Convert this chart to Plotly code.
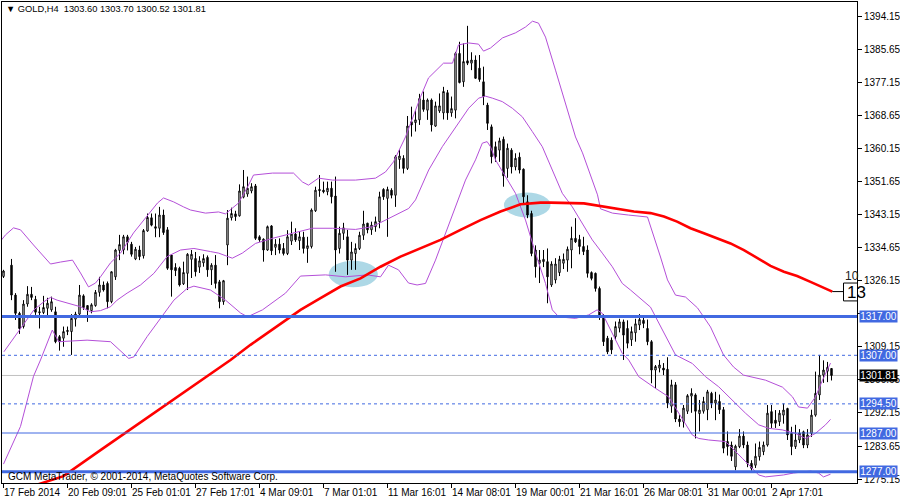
import plotly.graph_objects as go

# ---------------- data ----------------
opens = [1327.3, None, 1330.2, 1322.5, 1317.8, 1314.4, 1320.2, 1322.7, 1321.4, 1318.2,
         1318.0, 1319.1, 1318.7, 1318.2, 1311.8, 1311.4, 1313.1, 1313.1, 1316.3, 1317.6,
         1322.3, 1319.8, 1318.5, 1319.8, 1323.2, 1325.1, 1325.5, 1320.8, 1327.2, 1334.0,
         1334.1, 1337.5, 1335.6, 1331.8, 1334.1, 1332.6, 1339.0, 1342.4, 1340.1, 1339.7,
         1343.1, 1339.3, 1332.8, 1329.6, 1329.4, 1325.4, 1328.1, 1331.7, 1331.9, 1329.7,
         1330.8, 1332.2, 1329.0, 1330.2, 1325.9, 1320.8, 1335.4, 1342.4, 1343.4, 1342.9,
         1347.7, 1348.5, 1349.3, 1350.6, 1337.5, 1336.9, 1334.1, 1340.3, 1334.8, 1335.6,
         1334.5, 1333.2, 1336.4, 1338.2, 1336.5, 1337.4, 1334.5, 1335.0, 1344.2, 1349.7,
         1349.5, 1349.1, 1350.0, 1348.0, 1334.5, 1338.4, 1337.5, 1331.5, 1333.2, 1334.5,
         1337.9, 1341.0, 1339.3, 1340.1, 1341.4, 1349.7, 1347.4, 1349.5, 1348.2, 1357.4,
         1357.7, 1355.1, 1367.1, 1366.9, 1367.6, 1372.7, 1370.1, 1372.7, 1366.0, 1369.9,
         1369.4, 1374.6, 1369.4, 1370.1, 1384.7, 1377.4, 1382.8, 1382.2, 1383.0, 1380.9,
         1377.4, 1371.4, 1365.8, 1360.7, 1359.8, 1362.6, 1355.1, 1359.8, 1355.5, 1358.0,
         1354.9, 1346.5, 1343.5, 1334.1, 1330.7, 1331.1, 1331.1, 1325.1, 1326.4, 1328.3,
         1330.7, 1331.5, 1334.1, 1337.1, 1336.8, 1335.0, 1334.1, 1328.3, 1328.1, 1324.2,
         1316.9, 1311.4, 1310.9, 1311.8, 1314.0, 1315.6, 1313.9, 1311.0, 1312.8, 1314.8,
         1316.0, 1313.9, 1310.5, 1303.2, 1303.7, 1303.7, 1303.4, 1293.9, 1299.4, 1290.6,
         1289.9, 1292.6, 1296.5, 1296.8, 1292.0, 1292.6, 1293.0, 1297.2, 1294.7, 1295.1,
         1293.0, 1284.8, 1283.9, 1278.3, 1283.5, 1286.2, 1283.9, 1279.2, 1278.7, 1280.9,
         1282.2, 1283.9, 1292.5, 1290.3, 1289.9, 1291.6, 1293.3, 1286.9, 1283.5, 1285.2,
         1287.3, 1283.9, 1286.9, 1291.6, 1296.8, 1301.9, 1302.9, 1303.60]

highs = [1329.0, None, 1331.8, 1323.0, 1318.2, 1321.2, 1324.8, 1324.6, 1322.3, 1319.5,
         1322.3, 1321.8, 1322.1, 1319.5, 1312.2, 1314.4, 1314.4, 1317.6, 1318.2, 1325.1,
         1322.7, 1319.8, 1320.4, 1323.8, 1327.2, 1326.0, 1326.0, 1328.6, 1334.4, 1338.0,
         1338.0, 1338.0, 1336.2, 1334.9, 1335.2, 1339.5, 1343.5, 1343.5, 1343.5, 1345.2,
         1344.5, 1340.0, 1333.0, 1330.7, 1329.8, 1331.1, 1333.3, 1334.1, 1333.6, 1332.5,
         1333.0, 1332.7, 1330.7, 1332.8, 1326.4, 1326.4, 1344.4, 1345.0, 1344.2, 1351.0,
         1354.7, 1353.0, 1351.3, 1351.1, 1337.9, 1337.1, 1340.4, 1340.5, 1336.9, 1337.1,
         1335.9, 1339.2, 1341.4, 1339.7, 1338.8, 1338.8, 1337.5, 1344.8, 1350.4, 1353.4,
         1351.7, 1351.7, 1351.7, 1353.0, 1340.1, 1341.1, 1339.3, 1336.2, 1335.8, 1338.8,
         1344.2, 1341.1, 1341.4, 1342.7, 1349.1, 1350.0, 1350.4, 1350.0, 1358.5, 1360.0,
         1358.5, 1368.6, 1371.0, 1370.0, 1374.3, 1374.9, 1373.1, 1373.1, 1372.3, 1374.4,
         1376.1, 1375.3, 1373.6, 1385.1, 1387.7, 1387.3, 1391.8, 1385.0, 1384.2, 1384.3,
         1381.3, 1372.0, 1366.4, 1362.0, 1363.0, 1363.3, 1361.5, 1360.3, 1359.0, 1359.2,
         1355.1, 1348.2, 1344.2, 1335.3, 1334.1, 1334.1, 1334.5, 1331.2, 1332.0, 1332.6,
         1333.2, 1335.0, 1340.1, 1342.3, 1338.0, 1337.5, 1335.3, 1328.6, 1328.3, 1324.7,
         1317.6, 1312.0, 1311.6, 1315.7, 1316.4, 1316.2, 1316.0, 1314.4, 1316.4, 1317.6,
         1317.0, 1316.2, 1310.9, 1304.5, 1305.8, 1305.0, 1306.5, 1300.7, 1300.1, 1291.6,
         1294.2, 1297.0, 1298.5, 1297.2, 1295.5, 1296.3, 1298.1, 1297.6, 1297.6, 1296.9,
         1293.7, 1287.4, 1284.8, 1284.0, 1288.0, 1287.4, 1284.8, 1280.0, 1284.3, 1284.8,
         1284.8, 1294.2, 1294.2, 1292.9, 1292.9, 1294.6, 1293.5, 1288.6, 1289.1, 1288.0,
         1287.6, 1288.0, 1293.0, 1302.8, 1307.1, 1305.7, 1305.3, 1303.70]

lows = [1326.9, None, 1321.2, 1316.1, 1312.5, 1313.9, 1319.5, 1321.2, 1317.4, 1313.9,
        1317.6, 1316.9, 1318.2, 1310.1, 1308.2, 1309.2, 1312.2, 1307.1, 1314.4, 1316.9,
        1318.7, 1315.6, 1317.8, 1319.5, 1322.1, 1323.4, 1319.1, 1320.4, 1326.4, 1331.5,
        1333.0, 1334.0, 1332.4, 1331.5, 1331.5, 1331.9, 1338.8, 1340.2, 1337.4, 1337.4,
        1338.0, 1329.0, 1322.1, 1327.4, 1324.7, 1325.1, 1323.8, 1326.9, 1327.3, 1328.2,
        1329.8, 1327.2, 1325.1, 1324.2, 1319.1, 1320.0, 1330.2, 1341.7, 1341.6, 1342.7,
        1347.4, 1347.8, 1348.7, 1336.7, 1336.2, 1331.1, 1333.9, 1332.8, 1332.8, 1333.2,
        1332.7, 1332.8, 1335.4, 1336.2, 1334.1, 1333.2, 1330.8, 1334.5, 1343.9, 1347.8,
        1348.7, 1348.2, 1346.1, 1328.5, 1333.2, 1336.7, 1327.7, 1329.0, 1329.0, 1334.1,
        1336.7, 1338.4, 1338.0, 1338.8, 1339.7, 1347.0, 1337.5, 1347.4, 1345.2, 1355.0,
        1353.8, 1354.7, 1363.3, 1364.6, 1366.3, 1369.7, 1367.6, 1364.6, 1365.8, 1369.4,
        1367.7, 1367.6, 1368.4, 1368.0, 1377.0, 1376.1, 1381.7, 1380.4, 1378.2, 1377.4,
        1371.4, 1365.0, 1356.4, 1356.8, 1356.8, 1350.4, 1352.7, 1353.8, 1354.6, 1353.8,
        1346.1, 1342.3, 1332.5, 1327.0, 1325.6, 1329.7, 1320.4, 1324.6, 1325.5, 1327.4,
        1329.2, 1328.5, 1329.4, 1335.9, 1333.0, 1332.8, 1327.0, 1326.3, 1323.4, 1316.1,
        1309.4, 1307.3, 1307.3, 1310.9, 1312.9, 1305.8, 1308.8, 1309.4, 1310.5, 1313.5,
        1314.0, 1309.6, 1299.8, 1298.5, 1302.6, 1301.9, 1293.4, 1292.2, 1289.8, 1288.6,
        1288.4, 1291.9, 1292.2, 1285.6, 1287.4, 1292.0, 1290.3, 1293.4, 1290.3, 1291.9,
        1281.8, 1281.2, 1279.8, 1277.4, 1283.1, 1283.1, 1278.2, 1277.3, 1278.0, 1279.9,
        1281.3, 1283.5, 1288.3, 1288.3, 1288.8, 1289.4, 1285.2, 1281.3, 1282.9, 1284.4,
        1283.1, 1283.1, 1286.0, 1291.2, 1295.5, 1299.9, 1300.1, 1300.52]

closes = [1328.7, None, 1322.5, 1317.8, 1313.9, 1320.2, 1322.7, 1321.9, 1318.1, 1318.0,
          1319.3, 1320.4, 1320.8, 1310.5, 1310.5, 1313.1, 1313.4, 1316.5, 1317.6, 1322.5,
          1319.3, 1318.7, 1320.0, 1323.2, 1325.1, 1323.8, 1320.8, 1328.5, 1334.1, 1335.5,
          1337.5, 1336.1, 1333.0, 1334.3, 1332.4, 1339.1, 1342.5, 1340.5, 1339.7, 1343.1,
          1338.6, 1329.4, 1329.0, 1328.8, 1325.1, 1328.3, 1333.0, 1333.0, 1328.5, 1331.3,
          1331.9, 1329.0, 1330.2, 1325.5, 1320.8, 1326.2, 1342.3, 1343.5, 1342.7, 1349.3,
          1350.4, 1350.0, 1350.4, 1337.1, 1336.7, 1334.1, 1340.1, 1333.9, 1335.6, 1334.1,
          1333.2, 1337.5, 1338.2, 1336.7, 1337.5, 1334.5, 1335.2, 1344.4, 1349.5, 1349.4,
          1349.1, 1350.0, 1347.8, 1334.1, 1338.4, 1339.8, 1331.5, 1333.6, 1334.5, 1337.9,
          1340.8, 1339.3, 1340.5, 1341.4, 1347.8, 1347.8, 1349.7, 1348.2, 1358.1, 1358.3,
          1355.1, 1366.0, 1366.3, 1367.6, 1373.1, 1370.3, 1372.7, 1366.3, 1371.2, 1371.2,
          1374.9, 1369.4, 1370.5, 1384.7, 1377.2, 1382.6, 1382.2, 1383.0, 1378.3, 1378.0,
          1373.6, 1366.7, 1358.1, 1358.1, 1362.2, 1353.2, 1360.3, 1355.5, 1357.7, 1354.7,
          1347.8, 1343.1, 1333.2, 1329.8, 1331.5, 1331.7, 1327.2, 1330.5, 1330.5, 1331.7,
          1331.7, 1334.3, 1337.1, 1336.2, 1335.0, 1333.7, 1328.1, 1326.8, 1324.2, 1316.9,
          1310.5, 1307.9, 1308.4, 1314.4, 1315.6, 1312.2, 1310.1, 1313.1, 1315.1, 1316.2,
          1315.2, 1310.5, 1303.2, 1304.1, 1304.5, 1303.2, 1294.7, 1299.4, 1290.6, 1289.9,
          1293.4, 1296.6, 1297.2, 1292.6, 1292.9, 1295.1, 1297.6, 1294.7, 1295.5, 1293.0,
          1283.1, 1283.5, 1281.0, 1283.6, 1286.2, 1283.9, 1279.2, 1277.9, 1281.0, 1283.3,
          1283.9, 1292.1, 1289.5, 1289.5, 1292.1, 1292.9, 1286.5, 1283.5, 1285.2, 1287.0,
          1283.9, 1286.5, 1291.6, 1297.2, 1301.9, 1303.2, 1303.9, 1301.81]

# Bollinger bands (bar position, price)
upper_pos = [-0.5, 0.5, 2.5, 4.25, 7.5, 11.75, 14.25, 17.25, 19.25, 21.25, 23, 24.25, 26.75, 29.25,
             32.5, 36, 38.5, 40, 42.5, 45, 46.75, 50.5, 53.75, 55.5, 58.75, 61, 62.5, 67.25, 72.5,
             74.75, 76.25, 78.75, 82.25, 88, 93, 95.5, 97.5, 100.5, 102.25, 104.25, 106.25, 110,
             112.25, 113.75, 116.25, 118.75, 120, 121.75, 124.75, 128, 130.5, 132.25, 133.75, 135.5,
             138, 140.5, 143, 144.75, 146.25, 148.5, 149.25, 152.25, 156.25, 161, 164.25, 166, 168,
             170.5, 173.5, 176.75, 180, 182.5, 185, 190.5, 194.75, 197.25, 198.75, 201, 203, 204.75,
             206.75]
upper_vals = [1336.7, 1338.0, 1339.8, 1339.3, 1335.4, 1330.5, 1331.0, 1331.5, 1328.2, 1324.6, 1325.6,
              1327.2, 1330.8, 1333.3, 1338.5, 1343.1, 1346.2, 1347.5, 1346.5, 1345.2, 1344.4, 1343.6,
              1343.9, 1343.4, 1346.2, 1350.3, 1353.4, 1353.9, 1353.9, 1351.6, 1350.8, 1352.6, 1352.1,
              1352.1, 1352.6, 1354.2, 1356.8, 1363.2, 1368.1, 1373.5, 1378.4, 1382.2, 1382.2, 1386.9,
              1387.4, 1387.1, 1385.3, 1386.1, 1388.7, 1390.0, 1391.5, 1393.0, 1392.5, 1388.9, 1380.4,
              1371.9, 1363.2, 1359.1, 1354.7, 1348.3, 1344.7, 1343.6, 1343.1, 1342.6, 1332.3, 1326.4,
              1322.5, 1322.0, 1319.2, 1314.3, 1307.1, 1304.0, 1301.9, 1300.6, 1298.8, 1296.3, 1293.7,
              1293.4, 1296.3, 1300.6, 1305.0]

mid_pos = [0.1, 3.4, 7.6, 10.1, 11.75, 13.4, 15.9, 19.25, 21.75, 24.25, 26.75, 28.4, 30.9, 34.25,
           37.6, 40.9, 44.25, 47.6, 51.75, 53.8, 57.2, 59.7, 63, 67.2, 72.2, 77.2, 82.2, 88, 92.2,
           95.5, 98.8, 101.3, 103, 106.3, 109.7, 113, 116.3, 118.8, 120.5, 122.2, 124.7, 127.2,
           129.7, 132.2, 134.7, 137.2, 139.7, 142.2, 144.7, 147.2, 149.7, 152.2, 154.7, 156.75,
           161.75, 164.7, 166.3, 168, 172.2, 175.5, 178.8, 182.2, 185.5, 188.8, 191.3, 194.7, 198,
           200.5, 203, 205.5, 206.75]
mid_vals = [1307.9, 1312.7, 1318.7, 1320.8, 1321.9, 1321.2, 1320.4, 1319.5, 1318.2, 1318.5, 1319.5,
            1321.2, 1323.0, 1325.1, 1328.1, 1332.4, 1334.1, 1334.5, 1333.7, 1333.3, 1332.0, 1333.3,
            1335.8, 1337.1, 1338.4, 1339.7, 1339.7, 1339.4, 1340.1, 1341.8, 1343.6, 1344.8, 1347.0,
            1354.7, 1360.7, 1365.8, 1370.6, 1373.2, 1373.7, 1373.2, 1372.3, 1370.6, 1368.4, 1364.6,
            1360.7, 1354.7, 1348.7, 1345.2, 1341.0, 1336.7, 1333.3, 1329.8, 1325.5, 1323.8, 1319.4,
            1313.5, 1310.1, 1307.1, 1304.9, 1301.5, 1298.9, 1295.5, 1292.1, 1289.1, 1288.2, 1287.8,
            1286.9, 1285.6, 1286.9, 1289.1, 1290.5]

lower_pos = [0, 4.25, 7.5, 9.25, 12.2, 13.8, 20.9, 26.75, 31.3, 32.6, 35.9, 40.1, 42.6, 45.9, 47.6,
             51.75, 55.5, 59.25, 61, 64.75, 70.5, 74.25, 80.5, 85.5, 90.9, 94.25, 96.25, 98.75,
             101.25, 103.4, 105.5, 108, 110.5, 113, 115.5, 118, 119.7, 120.9, 121.75, 123, 125.5,
             128, 130.5, 133, 135.5, 137.2, 138.8, 143, 146.3, 148.4, 149.7, 152.2, 154.7, 156.3,
             158.8, 163, 166.3, 172.2, 173.8, 176.3, 180.5, 184.7, 187.2, 188.8, 190.5, 195, 197.5,
             201.75, 203.75, 205, 206.75]
lower_vals = [1279.0, 1288.7, 1301.6, 1305.8, 1313.5, 1310.5, 1310.9, 1310.5, 1306.2, 1306.6, 1311.8,
              1317.8, 1321.2, 1324.2, 1324.8, 1323.8, 1321.2, 1317.9, 1316.9, 1318.7, 1323.0, 1327.4,
              1327.7, 1327.2, 1327.7, 1327.2, 1330.2, 1329.0, 1325.6, 1325.1, 1325.5, 1331.5, 1338.4,
              1345.2, 1352.1, 1357.3, 1361.6, 1362.0, 1360.7, 1357.3, 1353.0, 1348.7, 1341.8, 1333.3,
              1325.5, 1318.7, 1316.9, 1316.5, 1317.4, 1318.7, 1317.8, 1312.7, 1307.5, 1305.8, 1301.5,
              1298.5, 1296.3, 1286.5, 1285.6, 1285.2, 1284.8, 1280.5, 1277.9, 1276.2, 1275.7, 1276.2,
              1276.7, 1277.2, 1276.7, 1275.7, 1276.4]

# red moving average (bar position, price)
ma_pos = [7.5, 15, 24.25, 36.75, 49.25, 56.75, 61.75, 74.25, 79.25, 84.25, 89.25, 94.25, 99.25,
          104.25, 109.25, 114.25, 119.25, 124.25, 129.25, 134.25, 136.75, 145.1, 149.25, 153.4,
          157.6, 161.75, 165.1, 168.4, 171.75, 175.1, 178.4, 181.75, 185.1, 188.4, 191.75, 195.1,
          198.4, 201.75, 204.25, 207.2]
ma_vals = [1273.4, 1275.9, 1282.6, 1291.6, 1300.6, 1305.8, 1309.7, 1318.7, 1321.7, 1324.7, 1326.8,
           1329.8, 1332.4, 1334.5, 1336.7, 1339.3, 1341.8, 1344.0, 1345.9, 1346.3, 1346.3, 1346.1,
           1345.4, 1344.6, 1344.0, 1343.6, 1342.7, 1341.4, 1339.7, 1338.4, 1337.1, 1335.8, 1334.1,
           1332.0, 1330.0, 1328.5, 1327.4, 1325.9, 1324.8, 1323.4]

# axes labels
x_tick_bars = [0, 16, 32, 48, 64, 80, 96, 112, 128, 144, 160, 176, 192]
x_tick_labels = ["17 Feb 2014", "20 Feb 09:01", "25 Feb 01:01", "27 Feb 17:01", "4 Mar 09:01",
                 "7 Mar 01:01", "11 Mar 16:01", "14 Mar 08:01", "19 Mar 00:01", "21 Mar 16:01",
                 "26 Mar 08:01", "31 Mar 00:01", "2 Apr 17:01"]
y_ticks = [1394.15, 1385.65, 1377.15, 1368.65, 1360.15, 1351.65, 1343.15, 1334.65, 1326.15,
           1317.65, 1309.15, 1300.65, 1292.15, 1283.65, 1275.15]
y_hidden_labels = [1317.65]   # fully covered by the 1317.00 tag in the reference

# horizontal levels
level_prices = [1317.00, 1307.00, 1294.50, 1287.00, 1277.00]
level_widths = [3, 1, 1, 1, 3]
level_dashes = ["solid", "3px,3px", "3px,3px", "solid", "solid"]
last_price = 1301.81

title_text = "GOLD,H4  1303.60 1303.70 1300.52 1301.81"
copyright_text = "GCM MetaTrader, © 2001-2014, MetaQuotes Software Corp."

# ---------------- figure ----------------
FONT = "Liberation Sans, Arial, sans-serif"
BLUE = "#4169E1"
PURPLE = "#B44FD8"
bars = list(range(len(opens)))

fig = go.Figure()

fig.add_trace(go.Candlestick(
    x=bars, open=opens, high=highs, low=lows, close=closes,
    increasing=dict(line=dict(color="black", width=1), fillcolor="white"),
    decreasing=dict(line=dict(color="black", width=1), fillcolor="black"),
    whiskerwidth=0, showlegend=False, hoverinfo="skip"))

for px, pv in [(upper_pos, upper_vals), (mid_pos, mid_vals), (lower_pos, lower_vals)]:
    fig.add_trace(go.Scatter(x=px, y=pv, mode="lines",
                             line=dict(color=PURPLE, width=1),
                             showlegend=False, hoverinfo="skip"))

fig.add_trace(go.Scatter(x=ma_pos, y=ma_vals, mode="lines",
                         line=dict(color="#FF0000", width=2.6),
                         showlegend=False, hoverinfo="skip"))

shapes = []
# highlighted ellipses
shapes.append(dict(type="circle", xref="x", yref="y", x0=81.3, x1=93.6, y0=1324.5, y1=1331.35,
                   fillcolor="#ADD8E6", line=dict(width=0), layer="below"))
shapes.append(dict(type="circle", xref="x", yref="y", x0=125.1, x1=136.75, y0=1342.5, y1=1348.9,
                   fillcolor="#ADD8E6", line=dict(width=0), layer="below"))
# current price line
shapes.append(dict(type="line", xref="paper", yref="y", x0=0, x1=1, y0=last_price, y1=last_price,
                   line=dict(color="#C0C0C0", width=1), layer="below"))
for p, w, d in zip(level_prices, level_widths, level_dashes):
    shapes.append(dict(type="line", xref="paper", yref="y", x0=0, x1=1, y0=p, y1=p,
                       line=dict(color=BLUE, width=w, dash=d), layer="above"))
# MA tag connector and box
shapes.append(dict(type="line", xref="x", yref="y", x0=ma_pos[-1], x1=210.0,
                   y0=ma_vals[-1], y1=ma_vals[-1], line=dict(color="black", width=1)))
shapes.append(dict(type="rect", xref="x", yref="y", x0=210.0, x1=214.5, y0=1321.0, y1=1325.6,
                   line=dict(color="black", width=1), fillcolor="white"))

annotations = []
annotations.append(dict(xref="paper", yref="paper", x=0.0, y=1.0, xanchor="left", yanchor="top",
                        xshift=2, yshift=0, showarrow=False,
                        text="▼ " + title_text,
                        font=dict(family=FONT, size=9.3, color="black")))
annotations.append(dict(xref="paper", yref="y", x=0.0, y=1275.9, xanchor="left", yanchor="middle",
                        xshift=4, showarrow=False, text=copyright_text,
                        font=dict(family=FONT, size=10, color="black")))
annotations.append(dict(xref="x", yref="y", x=209.8, y=1327.4, xanchor="left", yanchor="middle",
                        showarrow=False, text="10",
                        font=dict(family=FONT, size=12, color="#222222")))
annotations.append(dict(xref="x", yref="y", x=210.3, y=1323.2, xanchor="left", yanchor="middle",
                        showarrow=False, text="13",
                        font=dict(family=FONT, size=17, color="black")))
for p in level_prices:
    annotations.append(dict(xref="paper", yref="y", x=1.0, y=p, xanchor="left", yanchor="middle",
                            xshift=2, showarrow=False, text=f"{p:.2f}", bgcolor=BLUE,
                            width=37, height=11, borderpad=0,
                            font=dict(family=FONT, size=10, color="white")))
annotations.append(dict(xref="paper", yref="y", x=1.0, y=last_price, xanchor="left",
                        yanchor="middle", xshift=2, showarrow=False, text=f"{last_price:.2f}",
                        bgcolor="black", width=37, height=11, borderpad=0,
                        font=dict(family=FONT, size=10, color="white")))
# x-axis date labels, left-aligned at their tick marks
for b, lab in zip(x_tick_bars, x_tick_labels):
    annotations.append(dict(xref="x", yref="paper", x=b, y=0, xanchor="left", yanchor="top",
                            xshift=-2, yshift=-2, showarrow=False, text=lab,
                            font=dict(family=FONT, size=10, color="black")))

fig.update_layout(
    width=900, height=500,
    margin=dict(l=2, r=43, t=2, b=17),
    paper_bgcolor="white", plot_bgcolor="white",
    shapes=shapes, annotations=annotations,
    showlegend=False, boxgap=0.5,
    xaxis=dict(range=[-0.375, 213.375], rangeslider=dict(visible=False),
               showgrid=False, zeroline=False, showline=True, linecolor="black", linewidth=1,
               mirror=True, ticks="outside", ticklen=4, tickcolor="black",
               tickvals=x_tick_bars, showticklabels=False, automargin=False, fixedrange=True),
    yaxis=dict(range=[1274.13, 1397.94], side="right",
               showgrid=False, zeroline=False, showline=True, linecolor="black", linewidth=1,
               mirror=True, ticks="outside", ticklen=4, tickcolor="black",
               tickvals=y_ticks,
               ticktext=["" if v in y_hidden_labels else f"{v:.2f}" for v in y_ticks],
               automargin=False,
               tickfont=dict(family=FONT, size=10, color="black"), fixedrange=True),
)

fig.write_html("out.html", config={"displayModeBar": False},
               post_script="document.body.style.margin='0';document.body.style.overflow='hidden';")
